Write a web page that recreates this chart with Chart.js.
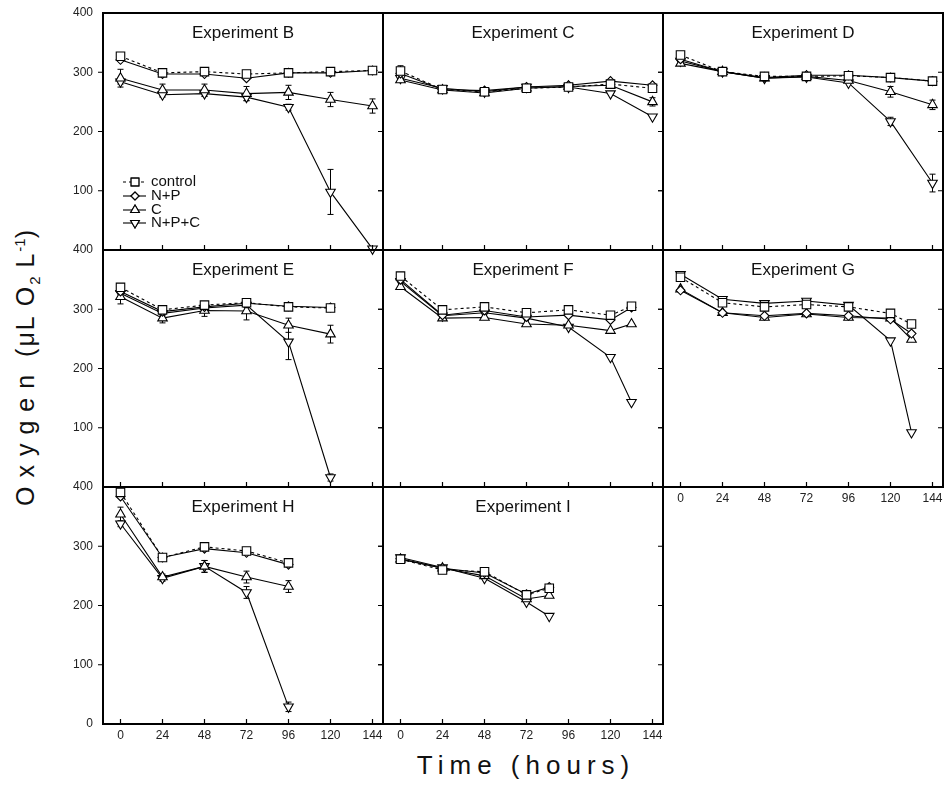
<!DOCTYPE html>
<html>
<head>
<meta charset="utf-8">
<title>Oxygen by experiment</title>
<script src="https://cdn.jsdelivr.net/npm/chart.js@4.4.1/dist/chart.umd.min.js"></script>
<style>
  html, body { margin: 0; padding: 0; background: #fff; }
  #figure { position: relative; width: 948px; height: 785px; overflow: hidden;
            font-family: 'Liberation Sans', Arial, sans-serif; color: #111; }
  #figure canvas { position: absolute; }
  .ytitle { position: absolute; left: 27px; top: 367px; white-space: nowrap;
            transform: translate(-50%, -50%) rotate(-90deg); font-size: 25px; letter-spacing: 2px; }
  .ytitle .spaced { letter-spacing: 9px; }
  .ytitle sub, .ytitle sup { font-size: 15px; letter-spacing: 0; }
  .xtitle { position: absolute; left: 526px; top: 765px; white-space: nowrap;
            transform: translate(-50%, -50%); font-size: 26px; letter-spacing: 6px; }
</style>
</head>
<body>
<div id="figure">
  <div class="ytitle"><span class="spaced">Oxygen</span> (μL O<sub>2</sub> L<sup>-1</sup>)</div>
  <div class="xtitle">Time (hours)</div>
</div>
<script>
// ── Shared axis values ─────────────────────────────────────
const X_TICKS = [0, 24, 48, 72, 96, 120, 144];
const Y_TICKS = [0, 100, 200, 300, 400];
const SERIES_NAMES = ['control', 'N+P', 'C', 'N+P+C'];

// ── Experiment B ───────────────────────────────────────────
const HOURS_B = [0, 24, 48, 72, 96, 120, 144];
const B_CONTROL = [327, 299, 301, 297, 299, 301, 303];
const B_NP = [321, 297, 297, 290, 299, 299, 303];
const B_C = [290, 270, 270, 264, 266, 254, 243];
const B_NPC = [284, 262, 264, 258, 241, 98, 2];
const B_C_ERR = [15, 10, 10, 12, 12, 12, 12];
const B_NPC_ERR = [4, 4, 5, 6, 5, 38, 0];

// ── Experiment C ───────────────────────────────────────────
const HOURS_C = [0, 24, 48, 72, 96, 120, 144];
const C_CONTROL = [302, 271, 267, 273, 275, 280, 273];
const C_NP = [298, 271, 269, 275, 278, 285, 278];
const C_C = [287, 270, 265, 273, 276, 278, 250];
const C_NPC = [290, 273, 267, 275, 275, 264, 225];
const C_CONTROL_ERR = [9, 0, 0, 0, 0, 0, 0];
const C_C_ERR = [0, 0, 0, 0, 0, 0, 7];

// ── Experiment D ───────────────────────────────────────────
const HOURS_D = [0, 24, 48, 72, 96, 120, 144];
const D_CONTROL = [329, 301, 293, 293, 294, 291, 285];
const D_NP = [322, 301, 291, 295, 295, 291, 285];
const D_C = [315, 301, 290, 293, 286, 267, 245];
const D_NPC = [319, 301, 290, 292, 282, 217, 113];
const D_C_ERR = [0, 0, 0, 0, 0, 9, 8];
const D_NPC_ERR = [0, 0, 0, 0, 0, 7, 15];

// ── Experiment E ───────────────────────────────────────────
const HOURS_E = [0, 24, 48, 72, 96, 120];
const E_CONTROL = [337, 299, 307, 311, 304, 302];
const E_NP = [330, 296, 304, 310, 305, 303];
const E_C = [321, 285, 298, 297, 273, 258];
const E_NPC = [327, 293, 302, 307, 245, 16];
const E_C_ERR = [12, 8, 10, 15, 12, 15];
const E_NPC_ERR = [5, 4, 4, 4, 30, 6];

// ── Experiment F ───────────────────────────────────────────
const HOURS_F = [0, 24, 48, 72, 96, 120, 132];
const F_CONTROL = [356, 299, 304, 294, 299, 290, 305];
const F_NP = [350, 290, 298, 287, 290, 282, 303];
const F_C = [338, 285, 286, 275, 273, 264, 275];
const F_NPC = [347, 289, 294, 285, 270, 219, 143];

// ── Experiment G ───────────────────────────────────────────
const HOURS_G = [0, 24, 48, 72, 96, 120, 132];
const G_CONTROL = [354, 311, 304, 308, 304, 293, 275];
const G_NP = [332, 294, 289, 293, 289, 283, 259];
const G_C = [334, 294, 286, 292, 286, 285, 249];
const G_NPC = [359, 317, 310, 314, 307, 247, 92];

// ── Experiment H ───────────────────────────────────────────
const HOURS_H = [0, 24, 48, 72, 96];
const H_CONTROL = [391, 281, 299, 292, 272];
const H_NP = [384, 281, 296, 289, 269];
const H_C = [354, 248, 266, 248, 232];
const H_NPC = [338, 246, 266, 222, 29];
const H_CONTROL_ERR = [6, 0, 0, 0, 0];
const H_C_ERR = [12, 5, 10, 10, 10];
const H_NPC_ERR = [5, 5, 10, 10, 8];

// ── Experiment I ───────────────────────────────────────────
const HOURS_I = [0, 24, 48, 72, 85];
const I_CONTROL = [278, 260, 257, 218, 229];
const I_NP = [279, 263, 255, 219, 231];
const I_C = [278, 263, 250, 211, 217];
const I_NPC = [281, 264, 246, 206, 182];

// ── Layout ────────────────────────────────────────────────
const COL_X = [103, 383, 663];
const ROW_Y = [13, 250, 487];
const PLOT_W = 280, PLOT_H = 237;
const PAD_L = 45, PAD_R = 10, PAD_T = 10, PAD_B = 25;
const FONT = "'Liberation Sans', Arial, sans-serif";

const PANELS = [
  { title: 'Experiment B', col: 0, row: 0, hours: HOURS_B, values: [B_CONTROL, B_NP, B_C, B_NPC], errors: [null, null, B_C_ERR, B_NPC_ERR], legend: true },
  { title: 'Experiment C', col: 1, row: 0, hours: HOURS_C, values: [C_CONTROL, C_NP, C_C, C_NPC], errors: [C_CONTROL_ERR, null, C_C_ERR, null] },
  { title: 'Experiment D', col: 2, row: 0, hours: HOURS_D, values: [D_CONTROL, D_NP, D_C, D_NPC], errors: [null, null, D_C_ERR, D_NPC_ERR] },
  { title: 'Experiment E', col: 0, row: 1, hours: HOURS_E, values: [E_CONTROL, E_NP, E_C, E_NPC], errors: [null, null, E_C_ERR, E_NPC_ERR] },
  { title: 'Experiment F', col: 1, row: 1, hours: HOURS_F, values: [F_CONTROL, F_NP, F_C, F_NPC], errors: [null, null, null, null] },
  { title: 'Experiment G', col: 2, row: 1, hours: HOURS_G, values: [G_CONTROL, G_NP, G_C, G_NPC], errors: [null, null, null, null], xLabels: true },
  { title: 'Experiment H', col: 0, row: 2, hours: HOURS_H, values: [H_CONTROL, H_NP, H_C, H_NPC], errors: [H_CONTROL_ERR, null, H_C_ERR, H_NPC_ERR], xLabels: true },
  { title: 'Experiment I', col: 1, row: 2, hours: HOURS_I, values: [I_CONTROL, I_NP, I_C, I_NPC], errors: [null, null, null, null], xLabels: true },
];

const SERIES_STYLE = [
  { pointStyle: 'rect',     radius: 6,   rotation: 0,   dash: [3, 3] },
  { pointStyle: 'rectRot',  radius: 4.5, rotation: 0,   dash: [] },
  { pointStyle: 'triangle', radius: 5.5, rotation: 0,   dash: [] },
  { pointStyle: 'triangle', radius: 5.5, rotation: 180, dash: [] },
];

// ── Frame, ticks, title, error bars, legend ───────────────
const panelPlugin = {
  id: 'panelDecor',
  beforeDatasetsDraw(chart) {
    const ctx = chart.ctx, ys = chart.scales.y;
    ctx.save();
    ctx.strokeStyle = '#000';
    ctx.lineWidth = 1;
    chart.data.datasets.forEach((ds, i) => {
      if (!ds.errors) return;
      chart.getDatasetMeta(i).data.forEach((pt, j) => {
        const e = ds.errors[j];
        if (!e) return;
        const v = ds.data[j].y;
        const t = ys.getPixelForValue(v + e), b = ys.getPixelForValue(v - e);
        ctx.beginPath();
        ctx.moveTo(pt.x, t); ctx.lineTo(pt.x, b);
        ctx.moveTo(pt.x - 3, t); ctx.lineTo(pt.x + 3, t);
        ctx.moveTo(pt.x - 3, b); ctx.lineTo(pt.x + 3, b);
        ctx.stroke();
      });
    });
    ctx.restore();
  },
  afterDraw(chart, args, opts) {
    const ctx = chart.ctx;
    const { left, right, top, bottom } = chart.chartArea;
    const xs = chart.scales.x, ys = chart.scales.y;
    ctx.save();
    ctx.strokeStyle = '#000';
    ctx.lineWidth = 1.2;
    ctx.beginPath();
    Y_TICKS.slice(1, -1).forEach((v) => {
      const py = ys.getPixelForValue(v);
      ctx.moveTo(left - 5, py); ctx.lineTo(left, py);
      ctx.moveTo(right - 5, py); ctx.lineTo(right, py);
    });
    X_TICKS.forEach((v) => {
      const px = xs.getPixelForValue(v);
      ctx.moveTo(px, bottom); ctx.lineTo(px, bottom - 5);
    });
    ctx.stroke();
    ctx.lineWidth = 2;
    ctx.strokeRect(left, top, right - left, bottom - top);

    ctx.fillStyle = '#111';
    ctx.font = `17px ${FONT}`;
    ctx.textAlign = 'center';
    ctx.textBaseline = 'middle';
    ctx.fillText(opts.title, (left + right) / 2, top + 20);

    if (opts.legend) {
      const rows = [169, 183, 197, 210];
      chart.data.datasets.forEach((ds, i) => {
        const y = top + rows[i];
        const st = SERIES_STYLE[i];
        ctx.lineWidth = 1.1;
        ctx.setLineDash(st.dash);
        ctx.beginPath();
        ctx.moveTo(left + 20, y); ctx.lineTo(left + 43, y);
        ctx.stroke();
        ctx.setLineDash([]);
        ctx.fillStyle = '#fff';
        Chart.helpers.drawPoint(ctx, {
          pointStyle: st.pointStyle, rotation: st.rotation, radius: st.radius - 0.5, borderWidth: 1.1,
        }, left + 32, y);
        ctx.fill();
        ctx.stroke();
        ctx.fillStyle = '#111';
        ctx.font = `15px ${FONT}`;
        ctx.textAlign = 'left';
        ctx.fillText(ds.label, left + 48, y);
      });
    }
    ctx.restore();
  },
};

// ── Build panels ──────────────────────────────────────────
const figure = document.getElementById('figure');

PANELS.forEach((p) => {
  const canvas = document.createElement('canvas');
  const w = PLOT_W + PAD_L + PAD_R, h = PLOT_H + PAD_T + PAD_B;
  canvas.width = w; canvas.height = h;
  canvas.style.width = w + 'px'; canvas.style.height = h + 'px';
  canvas.style.left = (COL_X[p.col] - PAD_L) + 'px';
  canvas.style.top = (ROW_Y[p.row] - PAD_T) + 'px';
  figure.appendChild(canvas);

  const showY = p.col === 0;
  const showZero = p.row === 2;

  new Chart(canvas, {
    type: 'line',
    data: {
      datasets: p.values.map((vals, k) => ({
        label: SERIES_NAMES[k],
        data: p.hours.map((hr, j) => ({ x: hr, y: vals[j] })),
        errors: p.errors[k],
        borderColor: '#000',
        borderWidth: 1.1,
        borderDash: SERIES_STYLE[k].dash,
        pointStyle: SERIES_STYLE[k].pointStyle,
        pointRadius: SERIES_STYLE[k].radius,
        pointRotation: SERIES_STYLE[k].rotation,
        pointBackgroundColor: '#fff',
        pointBorderColor: '#000',
        pointBorderWidth: 1.1,
        tension: 0,
        fill: false,
        clip: false,
      })),
    },
    options: {
      responsive: false,
      animation: false,
      devicePixelRatio: 1,
      layout: { padding: { top: PAD_T, right: PAD_R, left: 0, bottom: 0 } },
      plugins: {
        legend: { display: false },
        tooltip: { enabled: false },
        panelDecor: { title: p.title, legend: !!p.legend },
      },
      scales: {
        x: {
          type: 'linear', min: -10, max: 150,
          grid: { display: false, drawTicks: false }, border: { display: false },
          afterBuildTicks: (a) => { a.ticks = X_TICKS.map((v) => ({ value: v })); },
          afterFit: (a) => { a.height = PAD_B; a.paddingLeft = 0; a.paddingRight = 0; },
          ticks: { display: !!p.xLabels, padding: 4, maxRotation: 0, autoSkip: false,
                   color: '#222', font: { size: 12, family: FONT } },
        },
        y: {
          min: 0, max: 400,
          grid: { display: false, drawTicks: false }, border: { display: false },
          afterBuildTicks: (a) => { a.ticks = Y_TICKS.map((v) => ({ value: v })); },
          afterFit: (a) => { a.width = PAD_L; a.paddingTop = 0; a.paddingBottom = 0; },
          ticks: { display: showY, padding: 10, autoSkip: false,
                   color: '#222', font: { size: 12, family: FONT },
                   callback: (v) => (v === 0 && !showZero ? '' : v) },
        },
      },
    },
    plugins: [panelPlugin],
  });
});
</script>
</body>
</html>
